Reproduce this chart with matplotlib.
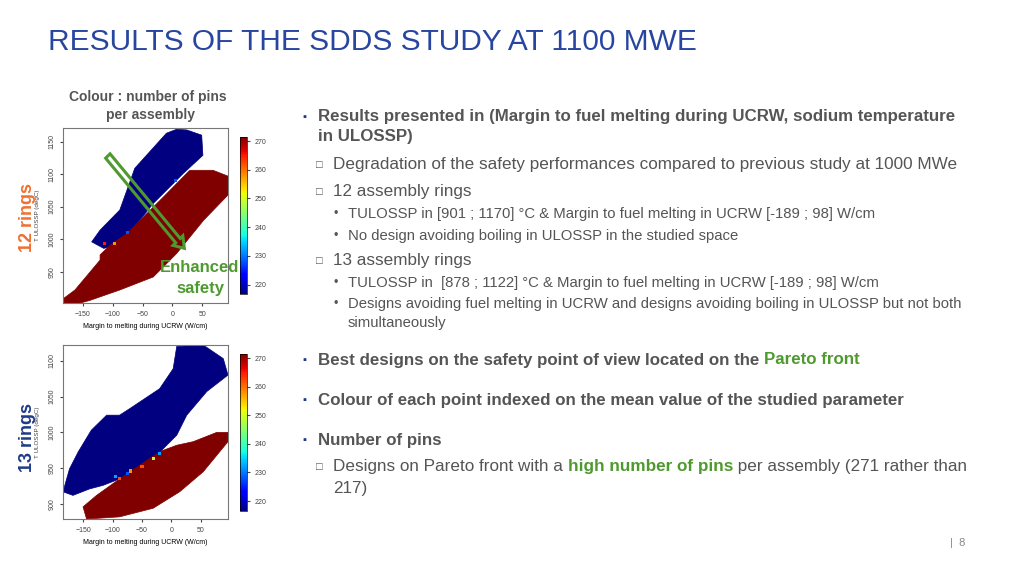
import matplotlib
matplotlib.use("Agg")
import matplotlib.pyplot as plt
from matplotlib.patches import Polygon, FancyArrow
import matplotlib as mpl

plt.rcParams["font.family"] = "Liberation Sans"

# Region outlines (margin W/cm, T ULOSSP degC)
top_blue = [(-135, 996), (-121, 1014), (-88, 1045), (-63, 1109), (-10, 1163), (7, 1169), (24, 1168),
            (49, 1160), (51, 1129), (18, 1101), (-32, 1055), (-88, 991), (-115, 986)]
top_red = [(-182, 902), (-182, 909), (-163, 922), (-121, 968), (-121, 976), (-104, 991), (-76, 1009),
           (-15, 1065), (29, 1106), (68, 1106), (93, 1097), (93, 1068), (52, 1029), (7, 978),
           (-32, 942), (-88, 922), (-138, 906), (-154, 902)]
bot_blue = [(-184, 917), (-173, 949), (-158, 973), (-136, 1003), (-110, 1024), (-88, 1024), (-71, 1033),
            (-20, 1061), (3, 1089), (9, 1120), (54, 1122), (88, 1103), (96, 1080), (60, 1057),
            (26, 1024), (9, 996), (-8, 982), (-42, 954), (-88, 935), (-116, 926), (-139, 921), (-167, 912)]
bot_red = [(-150, 896), (-127, 912), (-88, 935), (-20, 973), (9, 982), (37, 987), (77, 1000), (96, 1000),
           (96, 987), (54, 945), (14, 917), (-31, 894), (-88, 882), (-144, 879)]
top_mixed_x = [-113, -97, -75, 5]
top_mixed_y = [993, 994, 1010, 1090]
top_mixed_v = [265, 258, 228, 228]
bot_mixed_x = [-88, -75, -70, -50, -30, -20, -95]
bot_mixed_y = [935, 942, 946, 952, 964, 970, 938]
bot_mixed_v = [262, 228, 258, 262, 248, 232, 232]
x_ticks = [-150, -100, -50, 0, 50]
cb_ticks = [220, 230, 240, 250, 260, 270]

W, H = 1024, 576
fig = plt.figure(figsize=(10.24, 5.76), dpi=100)
def ax_px(x0, y0, x1, y1):
    return fig.add_axes([x0 / W, 1 - y1 / H, (x1 - x0) / W, (y1 - y0) / H])
def txt(x, y, s, **kw):
    return fig.text(x / W, 1 - y / H, s, **kw)

cmap = mpl.colormaps["jet"]
blue, red = cmap(0.0), cmap(1.0)

def panel(box, cbox, xl, yl, yt, blue_p, red_p, mx, my, mv, cbr):
    ax = ax_px(*box)
    ax.add_patch(Polygon(blue_p, closed=True, fc=blue, ec=blue, lw=0.5))
    ax.add_patch(Polygon(red_p, closed=True, fc=red, ec=red, lw=0.5))
    norm = mpl.colors.Normalize(216.5, 271.5)
    ax.scatter(mx, my, c=mv, cmap=cmap, norm=norm, marker="s", s=5, lw=0)
    ax.set_xlim(*xl); ax.set_ylim(*yl)
    ax.set_xticks(x_ticks); ax.set_yticks(yt)
    ax.set_yticklabels([str(v) for v in yt], rotation=90, va="center")
    ax.tick_params(labelsize=5, length=2, colors="#444")
    for s in ax.spines.values():
        s.set_color("#777")
    ax.set_xlabel("Margin to melting during UCRW (W/cm)", fontsize=5)
    ax.set_ylabel("T ULOSSP (degC)", fontsize=4.5, labelpad=6, color="#444")
    cax = ax_px(*cbox)
    cb = mpl.colorbar.ColorbarBase(cax, cmap=cmap, norm=mpl.colors.Normalize(*cbr))
    cb.set_ticks(cb_ticks)
    cax.tick_params(labelsize=5, length=2, colors="#444")
    cb.outline.set_linewidth(0.5)
    return ax

ax1 = panel((63, 128, 228, 303), (240, 137, 247, 294), (-183, 93), (902, 1171), [950, 1000, 1050, 1100, 1150],
            top_blue, top_red, top_mixed_x, top_mixed_y, top_mixed_v, (216.7, 271.4))
ax1.add_patch(FancyArrow(-108, 1128, 128, -142, width=10, head_width=22, head_length=16,
                         fill=False, ec="#4e9a2f", lw=2.2, length_includes_head=True))
ax2 = panel((63, 345, 228, 519), (240, 354, 247, 511), (-184, 96), (879, 1122), [900, 950, 1000, 1050, 1100],
            bot_blue, bot_red, bot_mixed_x, bot_mixed_y, bot_mixed_v, (216.5, 271.5))

green = "#4e9a2f"
dark = "#1f3a8a"
txt(48, 42, "RESULTS OF THE SDDS STUDY AT 1100 MWE", fontsize=21.5, color="#2846a0", va="center")
txt(148, 97, "Colour : number of pins", fontsize=10, color="#555", weight="bold", ha="center", va="center")
txt(150, 115, "per assembly", fontsize=10, color="#555", weight="bold", ha="center", va="center")
txt(200, 268, "Enhanced", fontsize=12, color=green, weight="bold", ha="center", va="center")
txt(200, 289, "safety", fontsize=12, color=green, weight="bold", ha="center", va="center")
txt(28, 217, "12 rings", fontsize=13, color="#f07030", weight="bold", rotation=90, ha="center", va="center")
txt(28, 437, "13 rings", fontsize=13, color=dark, weight="bold", rotation=90, ha="center", va="center")

g = "#555"
B, S, SS = 12.2, 12.3, 10.7
lines = [
    (302, 117, "\u25aa", 8, dark, "normal"),
    (318, 117, "Results presented in (Margin to fuel melting during UCRW, sodium temperature", B, g, "bold"),
    (318, 136, "in ULOSSP)", B, g, "bold"),
    (316, 165, "\u25a1", 8, g, "normal"),
    (333, 165, "Degradation of the safety performances compared to previous study at 1000 MWe", S, g, "normal"),
    (316, 192, "\u25a1", 8, g, "normal"),
    (333, 192, "12 assembly rings", S, g, "normal"),
    (333, 214, "\u2022", 9, g, "normal"),
    (348, 214, "TULOSSP in [901 ; 1170] \u00b0C & Margin to fuel melting in UCRW [-189 ; 98] W/cm", SS, g, "normal"),
    (333, 236, "\u2022", 9, g, "normal"),
    (348, 236, "No design avoiding boiling in ULOSSP in the studied space", SS, g, "normal"),
    (316, 261, "\u25a1", 8, g, "normal"),
    (333, 261, "13 assembly rings", S, g, "normal"),
    (333, 283, "\u2022", 9, g, "normal"),
    (348, 283, "TULOSSP in  [878 ; 1122] \u00b0C & Margin to fuel melting in UCRW [-189 ; 98] W/cm", SS, g, "normal"),
    (333, 304, "\u2022", 9, g, "normal"),
    (348, 304, "Designs avoiding fuel melting in UCRW and designs avoiding boiling in ULOSSP but not both", SS, g, "normal"),
    (348, 323, "simultaneously", SS, g, "normal"),
    (302, 360, "\u25aa", 8, dark, "normal"),
    (302, 400, "\u25aa", 8, dark, "normal"),
    (318, 400, "Colour of each point indexed on the mean value of the studied parameter", B, g, "bold"),
    (302, 440, "\u25aa", 8, dark, "normal"),
    (318, 440, "Number of pins", B, g, "bold"),
    (316, 467, "\u25a1", 8, g, "normal"),
    (333, 488, "217)", S, g, "normal"),
]
for x, y, s, fs, c, w in lines:
    txt(x, y, s, fontsize=fs, color=c, weight=w, va="center")

t = txt(318, 360, "Best designs on the safety point of view located on the ", fontsize=B,
        color=g, weight="bold", va="center")
fig.canvas.draw()
bb = t.get_window_extent()
fig.text(bb.x1 / W, 1 - 360 / H, "Pareto front", fontsize=B, color=green, weight="bold", va="center")
t1 = txt(333, 467, "Designs on Pareto front with a ", fontsize=S, color=g, va="center")
bb = t1.get_window_extent()
t2 = fig.text(bb.x1 / W, 1 - 467 / H, "high number of pins", fontsize=S, color=green, weight="bold", va="center")
bb = t2.get_window_extent()
fig.text(bb.x1 / W, 1 - 467 / H, " per assembly (271 rather than", fontsize=S, color=g, va="center")
txt(950, 543, "|  8", fontsize=8, color="#888", va="center")

fig.savefig("out.png", dpi=100)
